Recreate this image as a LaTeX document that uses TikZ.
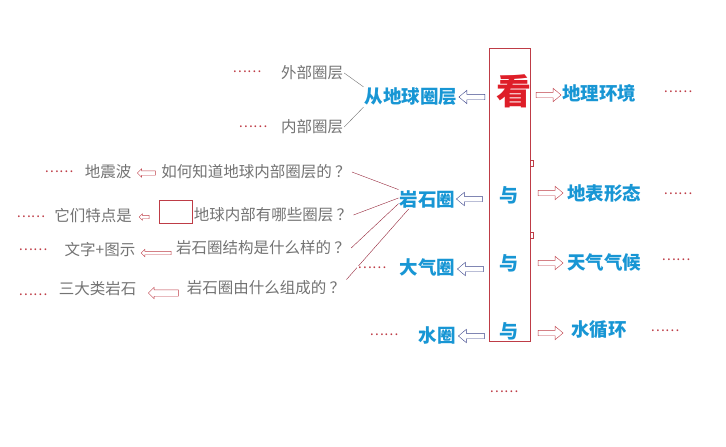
\documentclass[tikz,border=0pt]{standalone}
\usepackage{fontspec}
\setmainfont{Noto Sans CJK SC}
\usetikzlibrary{shapes.arrows}
\definecolor{tiblue}{RGB}{24,150,212}
\definecolor{kanred}{RGB}{222,30,40}
\definecolor{boxred}{RGB}{190,60,70}
\definecolor{linered}{RGB}{150,40,60}
\definecolor{asktext}{RGB}{115,115,115}
\definecolor{navy}{RGB}{60,70,140}

\begin{document}
\begin{tikzpicture}[
        x=1pt, y=-1pt, % как на картинке: y вниз
        topic/.style={text=tiblue, font=\fontsize{18.5}{20}\selectfont\bfseries, inner sep=1pt},
        ask/.style={text=asktext, font=\fontsize{15.5}{18}\selectfont, inner sep=1pt},
        dots/.style={text=boxred, font=\fontsize{13.5}{15}\selectfont, fill=white, inner sep=1pt},
        yu/.style={text=tiblue, font=\fontsize{19}{20}\selectfont\bfseries, fill=white, inner sep=1pt},
        larrow/.style={single arrow, draw=navy, fill=white, shape border rotate=180, minimum height=26pt,
                text height=5pt, text depth=0pt, single arrow head extend=4pt, single arrow tip angle=80, inner sep=0pt},
        rarrow/.style={single arrow, draw=boxred, fill=white, minimum height=25pt,
                text height=5pt, text depth=0pt, single arrow head extend=4pt, single arrow tip angle=80, inner sep=0pt},
        tinyarrow/.style={single arrow, draw=boxred, fill=white, shape border rotate=180,
                text depth=0pt, single arrow head extend=2pt, inner sep=0pt},
    ]
    \useasboundingbox (0,0) rectangle (726,447);

    % середина
    \node[draw=boxred, minimum width=41pt, minimum height=293pt, inner sep=0pt] (frame) at (509.5,194.5) {};
    \foreach \y in {163,235}
    \draw[boxred] (530,\y-3) -- (533,\y-3) -- (533,\y+3) -- (530,\y+3);
    \node[text=kanred, font=\fontsize{35}{38}\selectfont\bfseries, inner sep=0pt] (kan) at (514,91) {看};
    \node[yu] (yu1) at (509,195) {与};
    \node[yu] (yu2) at (509,263) {与};
    \node[yu] (yu3) at (509,331) {与};
    \node[dots] (d0) at (504,392) {……};

    % слева
    \node[topic] (quan) at (411,97) {从地球圈层};
    \node[topic] (yanshi) at (427.5,199) {岩石圈};
    \node[topic] (daqi) at (427.5,267) {大气圈};
    \node[topic] (shui) at (437,335) {水圈};
    \node[larrow] (la1) at (473.5,97) {};
    \node[larrow] (la2) at (471,199) {};
    \node[larrow] (la3) at (472,269) {};
    \node[larrow] (la4) at (473,336) {};

    % справа
    \node[rarrow] (ra1) at (547,95) {};
    \node[rarrow] (ra2) at (549,193) {};
    \node[rarrow] (ra3) at (549,263) {};
    \node[rarrow] (ra4) at (549,333) {};
    \node[topic] (dili) at (599,93) {地理环境};
    \node[topic] (dibiao) at (604,193) {地表形态};
    \node[topic] (tianqi) at (604,262) {天气气候};
    \node[topic] (shuixun) at (599,330) {水循环};
    \node[dots] (d1) at (678,92) {……};
    \node[dots] (d2) at (678,194) {……};
    \node[dots] (d3) at (676,260) {……};
    \node[dots] (d4) at (665,331) {……};

    %圈层
    \node[ask] (waibu) at (312,73) {外部圈层};
    \node[ask] (neibu) at (312,127) {内部圈层};
    \draw[asktext] (waibu.east) -- (quan.north west);
    \draw[asktext] (neibu.east) -- (quan.south west);
    \node[dots] (d5) at (247,72) {……};
    \node[dots] (d6) at (253,127) {……};

    % вопросы
    \node[ask] (q1) at (256,172) {如何知道地球内部圈层的 ？};
    \node[ask] (q2) at (273,215) {地球内部有哪些圈层 ？};
    \node[ask] (q3) at (263,248) {岩石圈结构是什么样的 ？};
    \node[ask] (q4) at (266,288) {岩石圈由什么组成的 ？};
    \draw[linered] (yanshi.162) -- (q1.east);
    \draw[linered] (yanshi.178) -- (q2.east);
    \draw[linered] (yanshi.189) -- (q3.east);
    \draw[linered] (yanshi.208) -- (q4.north east);
    \node[dots] (d7) at (372,268) {……};
    \node[dots] (d8) at (384,335) {……};

    % ответы
    \node[ask] (a1) at (108,172) {地震波};
    \node[ask] (a2) at (93,216) {它们特点是};
    \node[ask] (a3) at (100,250) {文字+图示};
    \node[ask] (a4) at (97.5,289) {三大类岩石};
    \node[tinyarrow, minimum height=18pt, text height=4pt] (t1) at (147.5,173) {};
    \node[tinyarrow, minimum height=10pt, text height=3pt, single arrow head extend=1.5pt] (t2) at (145,217) {};
    \node[tinyarrow, minimum height=30pt, text height=3pt] (t3) at (157,253) {};
    \node[tinyarrow, minimum height=30pt, text height=6pt, single arrow head extend=2.5pt] (t4) at (165,293) {};
    \node[draw=boxred, minimum width=33pt, minimum height=23pt, inner sep=0pt] (kong) at (175.5,211.5) {};
    \node[dots] (d9) at (59,172) {……};
    \node[dots] (d10) at (31,217) {……};
    \node[dots] (d11) at (33,250) {……};
    \node[dots] (d12) at (33,295) {……};

\end{tikzpicture}
\end{document}
